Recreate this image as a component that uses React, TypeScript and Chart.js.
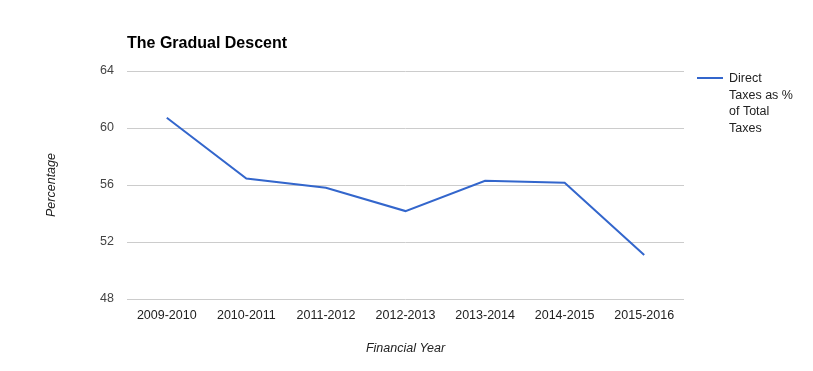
import React, { useEffect, useRef } from "react";
import { Chart, registerables } from "chart.js";

Chart.register(...registerables);

const categories = ["2009-2010", "2010-2011", "2011-2012", "2012-2013", "2013-2014", "2014-2015", "2015-2016"];
const directTaxShare = [60.72, 56.45, 55.8, 54.17, 56.3, 56.15, 51.08];
const seriesLabel = ["Direct", "Taxes as %", "of Total", "Taxes"];
const yTicks = [48, 52, 56, 60, 64];
const chartTitle = "The Gradual Descent";
const xTitle = "Financial Year";
const yTitle = "Percentage";

const FONT = "Arial, 'Liberation Sans', sans-serif";
const LINE_COLOR = "#3366cc";

const overlayPlugin = {
  id: "overlay",
  afterDraw(chart: any) {
    const ctx = chart.ctx;
    const area = chart.chartArea;
    ctx.save();
    ctx.fillStyle = "#000";
    ctx.font = `bold 16px ${FONT}`;
    ctx.textAlign = "left";
    ctx.textBaseline = "middle";
    ctx.fillText(chartTitle, area.left, 44);
    const lx = area.right + 13;
    ctx.strokeStyle = LINE_COLOR;
    ctx.lineWidth = 2;
    ctx.beginPath();
    ctx.moveTo(lx, 78);
    ctx.lineTo(lx + 26, 78);
    ctx.stroke();
    ctx.fillStyle = "#222";
    ctx.font = `12.5px ${FONT}`;
    seriesLabel.forEach((t, i) => {
      ctx.fillText(t, lx + 32, 78.5 + i * 16.7);
    });
    ctx.restore();
  },
};

export default function App() {
  const ref = useRef<HTMLCanvasElement>(null);
  useEffect(() => {
    if (!ref.current) return;
    const chart = new Chart(ref.current, {
      type: "line",
      data: {
        labels: categories,
        datasets: [
          {
            label: seriesLabel.join(" "),
            data: directTaxShare,
            borderColor: LINE_COLOR,
            backgroundColor: LINE_COLOR,
            borderWidth: 2,
            pointRadius: 0,
            tension: 0,
            fill: false,
          },
        ],
      },
      options: {
        responsive: false,
        animation: false,
        layout: { padding: { top: 71, right: 129, left: 0, bottom: 0 } },
        plugins: {
          legend: { display: false },
          title: { display: false },
          tooltip: { enabled: false },
        },
        scales: {
          x: {
            offset: true,
            grid: { display: false, drawTicks: false },
            border: { display: false },
            ticks: {
              color: "#222",
              font: { family: FONT, size: 12.5 },
              padding: 9,
              maxRotation: 0,
              autoSkip: false,
            },
            title: {
              display: true,
              text: xTitle,
              color: "#222",
              font: { family: FONT, size: 12.5, style: "italic" },
              padding: { top: 0, bottom: 14.5 },
            },
            afterFit: (s: any) => {
              s.height = 72;
            },
          },
          y: {
            min: 48,
            max: 64,
            afterBuildTicks: (s: any) => {
              s.ticks = yTicks.map((v) => ({ value: v }));
            },
            grid: { color: "#cccccc", drawTicks: false, lineWidth: 1 },
            border: { display: false },
            ticks: {
              color: "#444",
              font: { family: FONT, size: 12.5 },
              padding: 13,
            },
            title: {
              display: true,
              text: yTitle,
              color: "#222",
              font: { family: FONT, size: 12.5, style: "italic" },
              padding: { top: 44, bottom: 0 },
            },
            afterFit: (s: any) => {
              s.width = 127;
            },
          },
        },
      },
      plugins: [overlayPlugin],
    });
    return () => chart.destroy();
  }, []);
  return (
    <div style={{ position: "fixed", left: 0, top: 0, width: 813, height: 371, background: "#fff" }}>
      <canvas ref={ref} width={813} height={371} style={{ display: "block" }} />
    </div>
  );
}
